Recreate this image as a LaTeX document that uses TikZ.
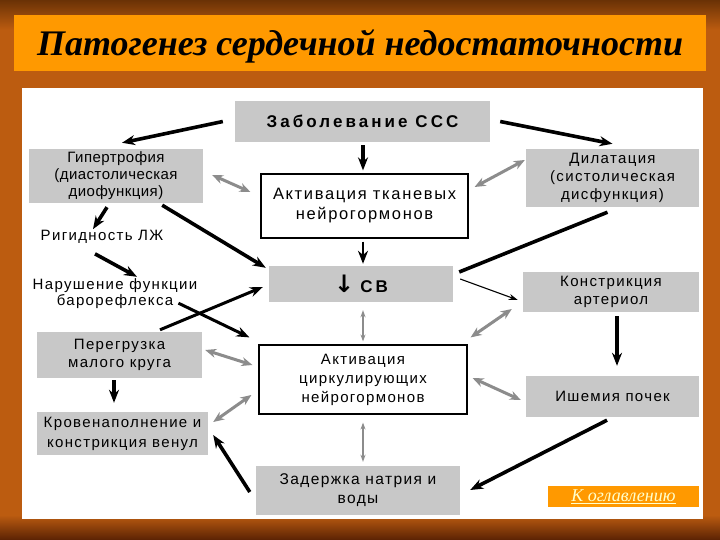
\documentclass[tikz,border=0pt]{standalone}
\usepackage{fontspec}
\setmainfont{Liberation Sans}
\newfontfamily\titlefont{Liberation Serif}
\newfontfamily\boxfont[LetterSpace=9]{Liberation Sans}
\newfontfamily\boxfontn[LetterSpace=3]{Liberation Sans}
\newfontfamily\boxfontw[LetterSpace=10]{Liberation Sans}
\newfontfamily\boldbox[LetterSpace=18]{Liberation Sans}
\newfontfamily\arrfont{DejaVu Sans}
\usetikzlibrary{arrows.meta,calc}
\definecolor{boxgray}{HTML}{C8C8C8}
\definecolor{arrgray}{HTML}{8C8C8C}
\definecolor{orng}{HTML}{FF9900}
\definecolor{bgdark}{HTML}{6A3206}
\definecolor{bgmid}{HTML}{BC5C10}
\definecolor{bgbot}{HTML}{5A2204}
\definecolor{linktxt}{HTML}{FFFFCC}
\tikzset{
  gbox/.style={fill=boxgray, inner sep=0pt, align=center, font=\boxfont\fontsize{15}{18}\selectfont},
  wbox/.style={fill=white, draw=black, line width=1.2pt, inner sep=0pt, align=center},
  plain/.style={inner sep=1pt, align=center, font=\boxfont\fontsize{15}{16}\selectfont},
  blk/.style={draw=black, line width=3.6pt, -{Stealth[length=13pt,width=10pt]}},
  blkline/.style={draw=black, line width=3.6pt},
  blkthin/.style={draw=black, line width=1.1pt, -{Stealth[length=9pt,width=6pt]}},
  gry/.style={draw=arrgray, line width=3pt, {Stealth[length=11pt,width=9pt]}-{Stealth[length=11pt,width=9pt]}},
  grythin/.style={draw=arrgray, line width=1.2pt, {Stealth[length=7pt,width=5pt]}-{Stealth[length=7pt,width=5pt]}}
}
\begin{document}
\begin{tikzpicture}[x=1pt,y=-1pt]
\useasboundingbox (0,0) rectangle (720,540);
% background
\fill[bgmid] (0,0) rectangle (720,540);
\shade[top color=bgdark, bottom color=bgmid] (0,-0.01) rectangle (720,30);
\shade[top color=bgmid, bottom color=bgbot] (0,515) rectangle (720,540.01);
% title bar
\fill[orng] (14,15) rectangle (706,71);
\node (title) at (360,46) {\titlefont\bfseries\itshape\fontsize{36}{38}\selectfont Патогенез сердечной недостаточности};
% white panel
\fill[white] (22,88) rectangle (703,519);

% nodes
\node[gbox, minimum width=255pt, minimum height=41pt, font=\boldbox\bfseries\fontsize{17}{20}\selectfont] (zab) at (362.5,121.5) {Заболевание ССС};
\node[gbox, minimum width=174pt, minimum height=54pt, font=\boxfontn\fontsize{15}{17}\selectfont] (gip) at (116,176) {Гипертрофия\\(диастолическая\\диофункция)};
\node[wbox, minimum width=207pt, minimum height=64pt, font=\boxfontw\fontsize{16.5}{20}\selectfont] (tkan) at (364.5,206) {Активация тканевых\\нейрогормонов};
\node[gbox, minimum width=173pt, minimum height=58pt] (dil) at (612.5,178) {Дилатация\\(систолическая\\дисфункция)};
\node[plain] (rig) at (102,237) {Ригидность ЛЖ};
\node[plain] (baro) at (115,294) {Нарушение функции\\барорефлекса};
\node[gbox, minimum width=184pt, minimum height=36pt] (sv) at (361,284) {{\arrfont\bfseries\fontsize{24}{24}\selectfont ↓}\hspace{6pt}{\boldbox\bfseries\fontsize{17}{20}\selectfont СВ}};
\node[gbox, minimum width=176pt, minimum height=40pt] (konstr) at (611,292) {Констрикция\\артериол};
\node[gbox, minimum width=165pt, minimum height=46pt] (pereg) at (119.5,355) {Перегрузка\\малого круга};
\node[wbox, minimum width=208pt, minimum height=69pt, font=\boxfont\fontsize{15}{19}\selectfont] (cirk) at (363,379.5) {Активация\\циркулирующих\\нейрогормонов};
\node[gbox, minimum width=173pt, minimum height=41pt] (ish) at (612.5,396.5) {Ишемия почек};
\node[gbox, minimum width=171pt, minimum height=43pt, font=\boxfont\fontsize{15}{20}\selectfont] (krov) at (122.5,433.5) {Кровенаполнение и\\констрикция венул};
\node[gbox, minimum width=204pt, minimum height=49pt, font=\boxfont\fontsize{15.5}{19}\selectfont] (zad) at (358,490.5) {Задержка натрия и\\воды};
\node[fill=orng, minimum width=151pt, minimum height=21pt, inner sep=0pt, text=linktxt, font=\titlefont\itshape\fontsize{18}{20}\selectfont] (link) at (623.5,496.5) {\underline{К оглавлению}};

% black arrows
\draw[blk] ($(zab.west)+(-12,0)$) -- ($(gip.north)+(6,-6)$);
\draw[blk] ($(zab.east)+(10,0)$) -- ($(dil.north)+(0,-5)$);
\draw[blk] ($(zab.south)+(0.5,3)$) -- ($(tkan.north)+(-1.5,-3)$);
\draw[blk, line width=2.4pt] ($(tkan.south)+(-1.5,3)$) -- ($(sv.north)+(2,-2)$);
\draw[blk] ($(gip.south)+(-9,4)$) -- ($(rig.north)+(-9,0)$);
\draw[blk] ($(gip.south east)+(-41,2)$) -- ($(sv.north west)+(-3,2)$);
\draw[blk] ($(rig.south)+(-7,9)$) -- ($(baro.north)+(22,-1)$);
\draw[blkline] ($(dil.south)+(-5,5)$) -- ($(sv.east)+(6,-12)$);
\draw[blkthin] ($(sv.east)+(7,-5)$) -- ($(konstr.west)+(-5,8)$);
\draw[blk, line width=3pt] ($(pereg.north)+(40.5,-2)$) -- ($(sv.west)+(-6,3)$);
\draw[blk, line width=3pt] ($(baro.south east)+(-20,-7)$) -- ($(cirk.north west)+(-9,-7)$);
\draw[blk] ($(pereg.south)+(-5.5,2)$) -- ($(krov.north)+(-8.5,-9)$);
\draw[blk] ($(zad.west)+(-6,1.5)$) -- ($(krov.east)+(5,1.5)$);
\draw[blk] ($(konstr.south)+(6,4)$) -- ($(ish.north)+(4.5,-10)$);
\draw[blk] ($(ish.south)+(-5.5,3)$) -- ($(zad.east)+(10,-0.5)$);

% gray double arrows
\draw[gry] ($(gip.east)+(9,-1)$) -- ($(tkan.west)+(-10,-14)$);
\draw[gry] ($(tkan.east)+(6,-19)$) -- ($(dil.west)+(-1,-18)$);
\draw[gry] ($(pereg.east)+(3,-5)$) -- ($(cirk.west)+(-6,-14.5)$);
\draw[gry] ($(krov.east)+(5,-11.5)$) -- ($(cirk.west)+(-7,15.5)$);
\draw[gry] ($(cirk.north east)+(3,-7)$) -- ($(konstr.west)+(-11,17)$);
\draw[gry] ($(cirk.east)+(5,-1.5)$) -- ($(ish.west)+(-5,3.5)$);
\draw[grythin] ($(sv.south)+(2,8)$) -- ($(cirk.north)+(0,-3)$);
\draw[grythin] ($(cirk.south)+(0,8)$) -- ($(zad.north)+(5,-4)$);
\end{tikzpicture}
\end{document}
